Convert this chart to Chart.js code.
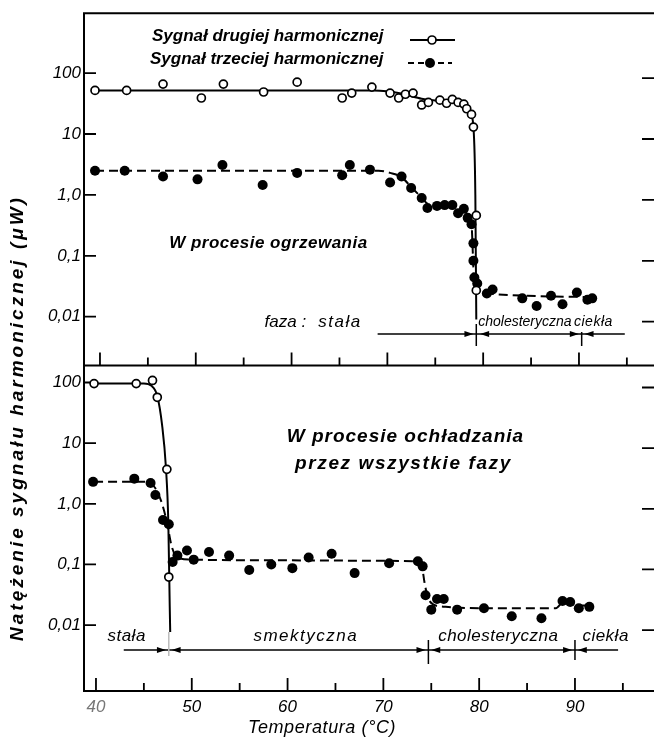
<!DOCTYPE html>
<html>
<head>
<meta charset="utf-8">
<script src="https://cdn.jsdelivr.net/npm/chart.js@4.4.1/dist/chart.umd.min.js"></script>
<style>
  html, body { margin: 0; padding: 0; background: #fff; }
  #wrap { width: 654px; height: 741px; }
</style>
</head>
<body>
<div id="wrap"><canvas id="chart" width="654" height="741"></canvas></div>
<script>
// W procesie ogrzewania - druga harmoniczna (punkty)
const heatT2 = [39.9, 43.2, 47.0, 51.0, 53.3, 57.5, 61.0, 65.7, 66.7, 68.8, 70.7, 71.6, 72.3, 73.1, 74.0, 74.7, 75.9, 76.6, 77.2, 77.8, 78.4, 78.7, 79.2, 79.4, 79.7, 79.7];
const heatV2 = [52, 52, 66, 39, 66, 49, 71, 39, 47, 59, 47, 39, 45, 47, 30, 33, 36, 32, 37, 33, 31, 26, 21, 13, 0.46, 0.027];
// W procesie ogrzewania - trzecia harmoniczna (punkty)
const heatT3 = [39.9, 43.0, 47.0, 50.6, 53.2, 57.4, 61.0, 65.7, 66.5, 68.6, 70.7, 71.9, 72.9, 74.0, 74.6, 75.6, 76.4, 77.2, 77.8, 78.4, 78.8, 79.2, 79.4, 79.4, 79.5, 79.8, 80.8, 81.4, 84.5, 86.0, 87.5, 88.7, 90.2, 91.3, 91.8];
const heatV3 = [2.5, 2.5, 2.0, 1.8, 3.1, 1.45, 2.3, 2.1, 3.1, 2.6, 1.6, 2.0, 1.3, 0.89, 0.61, 0.66, 0.68, 0.68, 0.50, 0.59, 0.42, 0.33, 0.16, 0.083, 0.044, 0.035, 0.024, 0.028, 0.020, 0.015, 0.022, 0.016, 0.025, 0.019, 0.020];
// krzywe
const heatFitT2 = [39.8, 50, 60, 69, 72, 74, 76, 77.5, 78.5, 79.1, 79.4, 79.6, 79.7];
const heatFitV2 = [52, 52, 52, 52, 46, 38, 35, 34, 30, 22, 13, 1, 0.009];
const heatFitT3 = [39.9, 55, 69.5, 70.7, 71.9, 72.9, 74.0, 74.6, 75.6, 77.3, 78.4, 78.8, 79.2, 79.35, 79.5, 80.5, 85, 91.9];
const heatFitV3 = [2.5, 2.5, 2.5, 2.3, 1.95, 1.35, 0.9, 0.72, 0.68, 0.68, 0.59, 0.43, 0.33, 0.1, 0.03, 0.024, 0.022, 0.021];

// W procesie ochladzania - druga harmoniczna (punkty)
const coolT2 = [39.8, 44.2, 45.9, 46.4, 47.4, 47.6];
const coolV2 = [96, 96, 108, 57, 3.7, 0.062];
// W procesie ochladzania - trzecia harmoniczna (punkty)
const coolT3 = [39.7, 44.0, 45.7, 46.2, 47.0, 47.6, 48.0, 48.5, 49.5, 50.2, 51.8, 53.9, 56.0, 58.3, 60.5, 62.2, 64.6, 67.0, 70.6, 73.6, 74.1, 74.4, 75.0, 75.6, 76.3, 77.7, 80.5, 83.4, 86.5, 88.7, 89.5, 90.4, 91.5];
const coolV3 = [2.3, 2.6, 2.2, 1.4, 0.54, 0.46, 0.11, 0.14, 0.17, 0.12, 0.16, 0.14, 0.081, 0.10, 0.087, 0.13, 0.15, 0.072, 0.105, 0.113, 0.093, 0.031, 0.018, 0.027, 0.027, 0.018, 0.019, 0.014, 0.013, 0.025, 0.024, 0.019, 0.020];
const coolFitT2 = [39.8, 45.0, 45.8, 46.4, 46.9, 47.3, 47.55, 47.7, 47.75];
const coolFitV2 = [96, 96, 88, 60, 20, 4, 0.5, 0.02, 0.0077];
const coolFitT3 = [39.8, 45.3, 46.2, 46.9, 47.4, 47.9, 48.5, 50, 60, 70, 73.4, 74.0, 74.3, 74.6, 75.2, 76.5, 80, 88, 88.8, 90.5, 91.6];
const coolFitV3 = [2.3, 2.3, 1.8, 1.0, 0.5, 0.2, 0.13, 0.12, 0.117, 0.115, 0.112, 0.095, 0.05, 0.03, 0.022, 0.02, 0.019, 0.019, 0.024, 0.021, 0.021];

// osie
const xLabels = [40, 50, 60, 70, 80, 90];
const xMinorTicks = [40, 45, 50, 55, 60, 65, 70, 75, 80, 85, 90, 95];
const yTicks = [100, 10, 1, 0.1, 0.01];
const yTickLabels = ['100', '10', '1,0', '0,1', '0,01'];

const pts = (xs, ys) => xs.map((x, i) => ({ x: x, y: ys[i] }));

const FONT = 'Liberation Sans';

const openPts = { showLine: false, pointRadius: 4, pointBorderWidth: 1.7, pointBackgroundColor: '#fff', pointBorderColor: '#000' };
const fullPts = { showLine: false, pointRadius: 5, pointBorderWidth: 0, pointBackgroundColor: '#000', pointBorderColor: '#000' };
const solidFit = { borderColor: '#000', borderWidth: 2, pointRadius: 0, cubicInterpolationMode: 'monotone' };
const dashFit = { borderColor: '#000', borderWidth: 2, pointRadius: 0, cubicInterpolationMode: 'monotone', borderDash: [9, 5] };

function arrow(ctx, x, y, dir) {
    ctx.beginPath();
    ctx.moveTo(x, y);
    ctx.lineTo(x - dir * 9, y - 3);
    ctx.lineTo(x - dir * 9, y + 3);
    ctx.closePath();
    ctx.fill();
}

function text(ctx, s, x, y, font, spacing) {
    ctx.font = font;
    ctx.letterSpacing = (spacing || 0) + 'px';
    ctx.fillText(s, x, y);
    ctx.letterSpacing = '0px';
}

const framePlugin = {
    id: 'frame',
    beforeDatasetsDraw(chart) {
        const ctx = chart.ctx;
        const a = chart.chartArea;
        const sx = chart.scales.x;
        const yT = chart.scales.yTop;
        const yB = chart.scales.yBot;
        ctx.save();
        ctx.strokeStyle = '#000';
        ctx.lineWidth = 2;
        // ramka
        ctx.beginPath();
        ctx.moveTo(654, a.top); ctx.lineTo(a.left, a.top);
        ctx.lineTo(a.left, a.bottom); ctx.lineTo(654, a.bottom);
        ctx.moveTo(a.left, yT.bottom); ctx.lineTo(654, yT.bottom);
        ctx.stroke();
        // podzialki y
        ctx.lineWidth = 1.8;
        [yT, yB].forEach(s => {
            yTicks.forEach(v => {
                const y = s.getPixelForValue(v);
                ctx.beginPath();
                ctx.moveTo(a.left, y); ctx.lineTo(a.left + 12, y);
                ctx.moveTo(642, y + 5); ctx.lineTo(654, y + 5);
                ctx.stroke();
            });
        });
        // podzialki x
        xMinorTicks.forEach(t => {
            const x = sx.getPixelForValue(t);
            const len = t % 10 === 0 ? 13 : 8;
            ctx.beginPath();
            ctx.moveTo(x, a.bottom); ctx.lineTo(x, a.bottom - len);
            ctx.moveTo(x + 4, yT.bottom); ctx.lineTo(x + 4, yT.bottom - len);
            ctx.stroke();
        });
        ctx.restore();
    },
    afterDraw(chart) {
        const ctx = chart.ctx;
        const sx = chart.scales.x;
        const yT = chart.scales.yTop;
        const yB = chart.scales.yBot;
        const X = t => sx.getPixelForValue(t);
        ctx.save();
        ctx.fillStyle = '#000';
        ctx.strokeStyle = '#000';
        ctx.textBaseline = 'middle';

        // legenda
        ctx.textAlign = 'left';
        text(ctx, 'Sygnał drugiej harmonicznej', 152, 36, 'italic bold 17px ' + FONT, 0);
        text(ctx, 'Sygnał trzeciej harmonicznej', 150, 59, 'italic bold 17px ' + FONT, 0);
        ctx.lineWidth = 2;
        ctx.beginPath(); ctx.moveTo(410, 40); ctx.lineTo(455, 40); ctx.stroke();
        ctx.beginPath(); ctx.arc(432, 40, 4, 0, Math.PI * 2);
        ctx.fillStyle = '#fff'; ctx.fill(); ctx.lineWidth = 1.7; ctx.stroke();
        ctx.fillStyle = '#000';
        ctx.lineWidth = 2; ctx.setLineDash([6, 4]);
        ctx.beginPath(); ctx.moveTo(408, 63); ctx.lineTo(452, 63); ctx.stroke();
        ctx.setLineDash([]);
        ctx.beginPath(); ctx.arc(430, 63, 5, 0, Math.PI * 2); ctx.fill();

        // opisy paneli
        ctx.textAlign = 'center';
        text(ctx, 'W procesie ogrzewania', X(58), yT.getPixelForValue(0.158), 'italic bold 17px ' + FONT, 0.5);
        text(ctx, 'W procesie ochładzania', X(72.3), yB.getPixelForValue(12.9), 'italic bold 19px ' + FONT, 1);
        text(ctx, 'przez wszystkie fazy', X(72.1), yB.getPixelForValue(4.6), 'italic bold 19px ' + FONT, 1.6);

        // fazy - ogrzewanie
        ctx.textAlign = 'left';
        let yl = yT.getPixelForValue(0.008);
        text(ctx, 'faza :', X(57.6), yl, 'italic 17px ' + FONT, 0);
        text(ctx, 'stała', X(63.2), yl, 'italic 17px ' + FONT, 1.5);
        text(ctx, 'cholesteryczna', X(79.9), yl, 'italic 14px ' + FONT, 0);
        text(ctx, 'ciekła', X(89.9), yl, 'italic 14px ' + FONT, 0.5);
        let ya = yT.getPixelForValue(0.0052);
        ctx.lineWidth = 1.5;
        ctx.beginPath(); ctx.moveTo(X(69.4), ya); ctx.lineTo(X(95.2), ya); ctx.stroke();
        ctx.beginPath();
        ctx.moveTo(X(79.7), ya - 10); ctx.lineTo(X(79.7), ya + 12);
        ctx.moveTo(X(90.7), ya - 2); ctx.lineTo(X(90.7), ya + 12);
        ctx.stroke();
        arrow(ctx, X(79.4), ya, 1);
        arrow(ctx, X(80.1), ya, -1);
        arrow(ctx, X(90.4), ya, 1);
        arrow(ctx, X(91.0), ya, -1);

        // fazy - ochladzanie
        yl = yB.getPixelForValue(0.0066);
        ctx.textAlign = 'center';
        const f = 'italic 17px ' + FONT;
        text(ctx, 'stała', X(43.2), yl, f, 0.5);
        text(ctx, 'smektyczna', X(61.9), yl, f, 1.5);
        text(ctx, 'cholesteryczna', X(82.0), yl, f, 0.5);
        text(ctx, 'ciekła', X(93.2), yl, f, 0.5);
        ya = yB.getPixelForValue(0.0039);
        ctx.beginPath(); ctx.moveTo(X(42.9), ya); ctx.lineTo(X(94.5), ya); ctx.stroke();
        ctx.beginPath();
        ctx.moveTo(X(74.7), ya - 10); ctx.lineTo(X(74.7), ya + 14);
        ctx.moveTo(X(90.0), ya - 10); ctx.lineTo(X(90.0), ya + 10);
        ctx.stroke();
        ctx.strokeStyle = '#bbb';
        ctx.beginPath(); ctx.moveTo(X(47.6), ya - 18); ctx.lineTo(X(47.6), ya + 6); ctx.stroke();
        arrow(ctx, X(47.3), ya, 1);
        arrow(ctx, X(47.9), ya, -1);
        arrow(ctx, X(74.4), ya, 1);
        arrow(ctx, X(75.0), ya, -1);
        arrow(ctx, X(89.7), ya, 1);
        arrow(ctx, X(90.3), ya, -1);

        // tytul osi x
        text(ctx, 'Temperatura (°C)', X(63.6), 728, 'italic 18px ' + FONT, 0.6);

        // tytul osi y
        ctx.translate(18, 418);
        ctx.rotate(-Math.PI / 2);
        text(ctx, 'Natężenie sygnału harmonicznej (μW)', 0, 0, 'italic bold 19px ' + FONT, 3);
        ctx.restore();
    }
};

const yAxis = (min, max, weight, stackWeight) => ({
    type: 'logarithmic',
    position: 'left',
    stack: 'panels',
    stackWeight: stackWeight,
    weight: weight,
    min: min,
    max: max,
    grid: { display: false, drawTicks: false },
    border: { display: false },
    afterBuildTicks: s => { s.ticks = yTicks.map(v => ({ value: v })); },
    afterFit: s => { s.width = 84; },
    ticks: {
        padding: 3,
        color: '#000',
        font: { family: FONT, size: 17, style: 'italic' },
        callback: v => yTickLabels[yTicks.indexOf(v)]
    }
});

new Chart(document.getElementById('chart'), {
    type: 'line',
    data: {
        datasets: [
            Object.assign({ label: 'Sygnał drugiej harmonicznej', data: pts(heatT2, heatV2), yAxisID: 'yTop' }, openPts),
            Object.assign({ label: 'Sygnał trzeciej harmonicznej', data: pts(heatT3, heatV3), yAxisID: 'yTop' }, fullPts),
            Object.assign({ label: 'ogrz. 2', data: pts(heatFitT2, heatFitV2), yAxisID: 'yTop' }, solidFit),
            Object.assign({ label: 'ogrz. 3', data: pts(heatFitT3, heatFitV3), yAxisID: 'yTop' }, dashFit),
            Object.assign({ label: 'ochl. 2 pkt', data: pts(coolT2, coolV2), yAxisID: 'yBot' }, openPts),
            Object.assign({ label: 'ochl. 3 pkt', data: pts(coolT3, coolV3), yAxisID: 'yBot' }, fullPts),
            Object.assign({ label: 'ochl. 2', data: pts(coolFitT2, coolFitV2), yAxisID: 'yBot' }, solidFit),
            Object.assign({ label: 'ochl. 3', data: pts(coolFitT3, coolFitV3), yAxisID: 'yBot' }, dashFit)
        ]
    },
    options: {
        responsive: false,
        animation: false,
        layout: { autoPadding: false, padding: { top: 12, right: 0, bottom: 0, left: 0 } },
        plugins: { legend: { display: false }, tooltip: { enabled: false } },
        scales: {
            x: {
                type: 'linear',
                min: 38.75,
                max: 98.25,
                grid: { display: false, drawTicks: false },
                border: { display: false },
                afterBuildTicks: s => { s.ticks = xLabels.map(v => ({ value: v })); },
                afterFit: s => { s.height = 50; },
                ticks: {
                    padding: 6,
                    maxRotation: 0,
                    autoSkip: false,
                    color: c => c.tick && c.tick.value === 40 ? '#777' : '#000',
                    font: { family: FONT, size: 17, style: 'italic' },
                    callback: v => String(v)
                }
            },
            yTop: yAxis(0.001574, 964, 1, 353),
            yBot: yAxis(0.00082, 190, 0, 326)
        }
    },
    plugins: [framePlugin]
});
</script>
</body>
</html>
